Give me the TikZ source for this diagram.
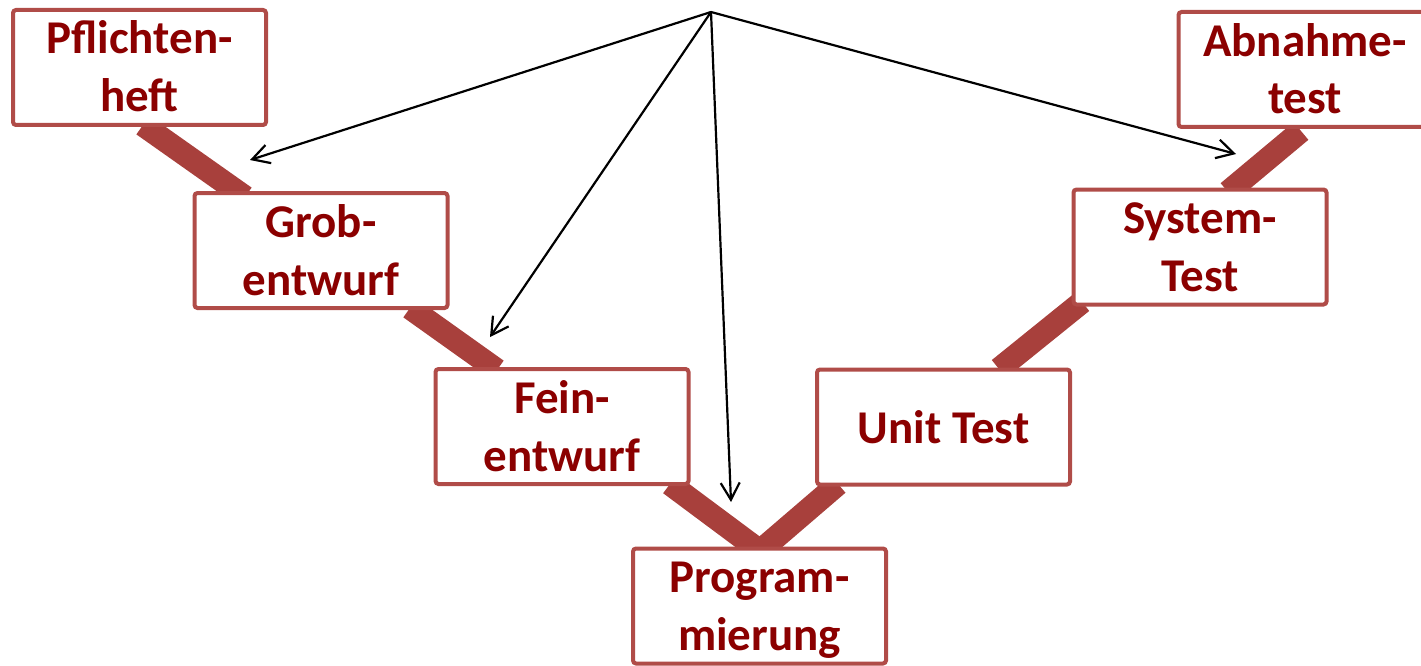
\documentclass[tikz,border=0pt]{standalone}
\usepackage{fontspec}
\setmainfont{Carlito}
\usetikzlibrary{arrows.meta}
\definecolor{txtred}{RGB}{139,0,0}
\definecolor{linered}{RGB}{168,64,60}
\definecolor{boxred}{RGB}{176,76,72}
\newcommand\twolines[2]{\rule{0pt}{44pt}#1\\#2\rule[-13pt]{0pt}{13pt}}
\begin{document}
\begin{tikzpicture}[x=1pt,y=-1pt,
  phase/.style={draw=boxred,line width=4pt,fill=white,rounded corners=3pt,
    minimum width=253pt,minimum height=115pt,inner sep=0pt,align=center,
    text=txtred,font=\fontsize{47}{58}\selectfont\bfseries},
  vline/.style={draw=linered,line width=23pt},
  ptr/.style={draw=black,line width=2.2pt,
    -{Straight Barb[length=17pt,width=19pt,line width=2.2pt]}}]
\useasboundingbox (0,0) rectangle (1421,666);
\clip (0,0) rectangle (1421,666);
% V-shaped connecting bars
\coordinate (s1a) at (143,125); \coordinate (s1b) at (245,197);
\coordinate (s2a) at (410,308); \coordinate (s2b) at (497,370);
\coordinate (s3a) at (670,484); \coordinate (s3b) at (760,551);
\coordinate (s4a) at (838,484);
\coordinate (s5a) at (999,369); \coordinate (s5b) at (1082,302);
\coordinate (s6a) at (1228,192); \coordinate (s6b) at (1301,131);
\draw[vline] (s1a) -- (s1b);
\draw[vline] (s2a) -- (s2b);
\draw[vline] (s3a) -- (s3b);
\draw[vline] (s4a) -- (s3b);
\draw[vline] (s5a) -- (s5b);
\draw[vline] (s6a) -- (s6b);
% boxes
\node[phase] (pf) at (139.5,67.5) {\twolines{Pflichten-}{heft}};
\node[phase] (gr) at (321,250.5) {\twolines{Grob-}{entwurf}};
\node[phase] (fe) at (562,426.5) {\twolines{Fein-}{entwurf}};
\node[phase] (pr) at (759.5,606) {\twolines{Program-}{mierung}};
\node[phase] (ut) at (943.5,427) {Unit Test};
\node[phase] (st) at (1200,247) {\twolines{System-}{Test}};
\node[phase] (ab) at (1305,69.5) {\twolines{Abnahme-}{test}};
% arrows
\coordinate (apex) at (711,12);
\coordinate (t1) at (250,160);
\coordinate (t2) at (490,337);
\coordinate (t3) at (731,502);
\coordinate (t4) at (1236,154);
\draw[ptr] (apex) -- (t1);
\draw[ptr] (apex) -- (t2);
\draw[ptr] (apex) -- (t3);
\draw[ptr] (apex) -- (t4);
\end{tikzpicture}
\end{document}
